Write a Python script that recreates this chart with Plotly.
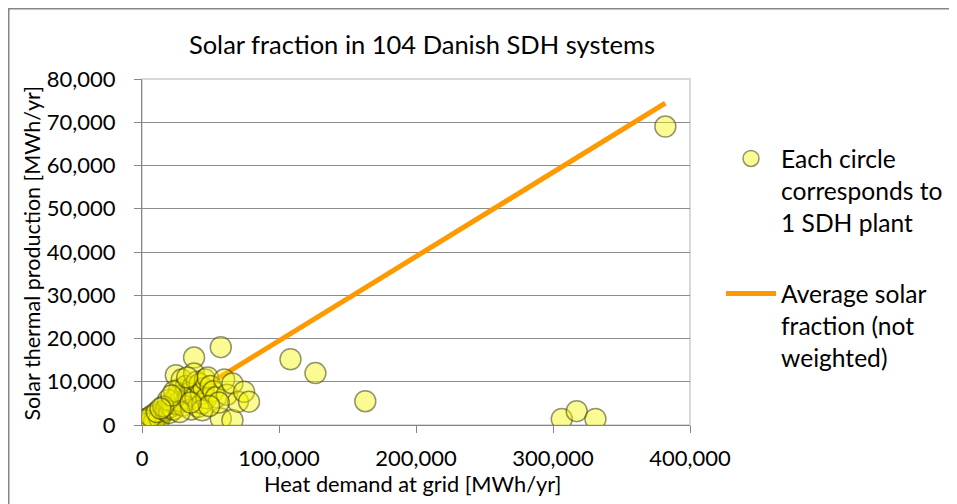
import plotly.graph_objects as go

# heat demand at grid [MWh/yr] and solar thermal production [MWh/yr], one pair per SDH plant
heat_demand = [
    1200, 1800, 2300, 2800, 3200, 3600, 4000, 4500, 5000, 5500,
    6000, 6200, 6800, 7200, 7500, 8000, 8500, 9000, 9500, 10000,
    10500, 11000, 11500, 12000, 12500, 13000, 14000, 14500, 15000, 16000,
    3000, 5200, 7800, 9800, 4200, 8800, 2000, 12800, 6500, 10800,
    17000, 18000, 19500, 20000, 21000, 22000, 23000, 24000, 24700, 25000,
    26000, 27000, 28000, 29000, 30000, 31000, 32000, 33000, 34000, 35000,
    36000, 37000, 38000, 38000, 39000, 40000, 41000, 42000, 43000, 44000,
    45000, 46000, 47000, 48000, 50000, 52000, 54000, 57500, 57500, 60000,
    62000, 66000, 66000, 70000, 74500, 78100, 56000,
    19000, 23500, 27500, 33000, 15500, 21500, 44000, 49000, 35500, 13500,
    108400, 126600, 163000, 306400, 317300, 331000, 382000,
]
solar_production = [
    300, 450, 600, 500, 700, 800, 900, 850, 1000, 1100,
    1200, 900, 1300, 1400, 1100, 1600, 1500, 1700, 1900, 2000,
    1800, 2200, 2100, 2400, 2300, 2600, 2700, 2500, 3000, 3100,
    1400, 1600, 2100, 2600, 300, 800, 1100, 1500, 2000, 3000,
    3400, 3800, 4000, 2800, 4200, 5200, 3600, 6000, 11500, 4800,
    6800, 8200, 5500, 10500, 4500, 7000, 9000, 6200, 5800, 7500,
    3600, 8800, 15600, 11900, 6500, 10000, 4200, 9500, 7200, 5000,
    8500, 10500, 6200, 11000, 9000, 7800, 6400, 18000, 1500, 10500,
    7000, 9600, 1150, 5400, 7700, 5400, 5200,
    5800, 7800, 3000, 11000, 4300, 6800, 3400, 4400, 5200, 3800,
    15200, 12000, 5500, 1400, 3200, 1400, 69000,
]

# average solar fraction line (not weighted)
avg_x = [1000, 382000]
avg_y = [200, 74400]

FONT = "Lato"
GREY = "#868686"

# page is drawn 8px in from the top-left corner, so margins are shifted by that
L, T, W, H = 134, 71, 548, 346

fig = go.Figure()
fig.add_trace(go.Scatter(
    x=avg_x, y=avg_y, mode="lines",
    line=dict(color="#ff9900", width=5),
    name="Average solar<br>fraction (not<br>weighted)",
    legendgroup="avg", legendrank=2,
))
fig.add_trace(go.Scatter(
    x=heat_demand, y=solar_production, mode="markers",
    marker=dict(size=21, color="rgba(245,245,0,0.42)",
                line=dict(color="rgba(60,60,20,0.55)", width=1.5)),
    name="Each circle<br>corresponds to<br>1 SDH plant",
    legendgroup="plants", legendrank=1,
))

fig.update_layout(
    width=957, height=504,
    margin=dict(l=L, r=957 - L - W, t=T, b=504 - T - H, autoexpand=False),
    paper_bgcolor="white", plot_bgcolor="white",
    font=dict(family=FONT, size=20, color="black"),
    title=dict(text="Solar fraction in 104 Danish SDH systems",
               x=414 / 957, xanchor="center", y=1 - 37 / 504, yanchor="middle",
               font=dict(family=FONT, size=25.5)),
    legend=dict(x=(713 - L) / W, xanchor="left", y=(T + H - 128) / H, yanchor="top",
                traceorder="grouped", tracegroupgap=36, valign="top",
                itemwidth=50, font=dict(family=FONT, size=24.6), bgcolor="rgba(0,0,0,0)"),
    showlegend=True,
    shapes=[
        # plot area border
        dict(type="rect", xref="paper", yref="paper", x0=0, x1=1, y0=0, y1=1,
             line=dict(color="#d9d9d9", width=2), layer="below"),
        # outer chart border
        dict(type="rect", xref="paper", yref="paper",
             x0=(0.5 - L) / W, x1=1.6, y0=-0.5, y1=(T + H - 0.5) / H,
             line=dict(color=GREY, width=2)),
    ],
    annotations=[
        # axis titles
        dict(text="Heat demand at grid [MWh/yr]", xref="paper", yref="paper",
             x=(404.5 - L) / W, y=(T + H - 476) / H, xanchor="center", yanchor="middle",
             showarrow=False, font=dict(family=FONT, size=21.8, color="black")),
        dict(text="Solar thermal production [MWh/yr]", xref="paper", yref="paper",
             x=(23 - L) / W, y=(T + H - 245.5) / H, xanchor="center", yanchor="middle",
             textangle=-90, showarrow=False,
             font=dict(family=FONT, size=21.5, color="black")),
    ],
)
fig.update_xaxes(
    range=[0, 400000], tickvals=[0, 100000, 200000, 300000, 400000],
    tickformat=",d", showgrid=False, zeroline=False,
    showline=True, linecolor=GREY, linewidth=1,
    ticks="outside", ticklen=7, tickcolor=GREY, ticklabelstandoff=7,
    tickfont=dict(family=FONT, size=22), automargin=False,
)
fig.update_yaxes(
    range=[0, 80000], dtick=10000, tickformat=",d",
    showgrid=True, gridcolor="#8c8c8c", gridwidth=1, zeroline=False,
    showline=True, linecolor=GREY, linewidth=1,
    ticks="outside", ticklen=7, tickcolor=GREY, ticklabelstandoff=14,
    tickfont=dict(family=FONT, size=22), automargin=False,
)

fig.write_html("out.html")
